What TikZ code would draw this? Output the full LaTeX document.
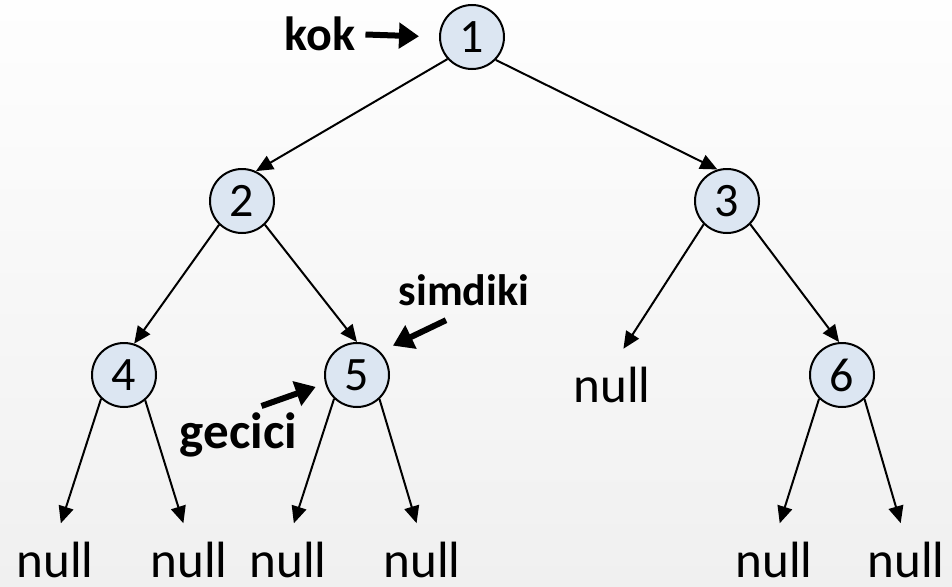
\documentclass[tikz,border=0pt]{standalone}
\usepackage{fontspec}
\setmainfont{Carlito}
\usetikzlibrary{arrows.meta}
\definecolor{nodefill}{HTML}{DCE6F2}
\definecolor{bgtop}{HTML}{FEFEFE}
\definecolor{bgbot}{HTML}{F0F0F0}
\tikzset{
  treenode/.style={circle, draw=black, line width=2pt, fill=nodefill, minimum size=64pt, inner sep=0pt, font=\fontsize{48}{56}\selectfont},
  nulltext/.style={inner sep=0pt, anchor=base, text depth=0pt, font=\fontsize{51}{60}\selectfont},
  lbl/.style={inner sep=0pt, anchor=base, text depth=0pt, font=\fontsize{44}{52}\selectfont\bfseries},
  edge/.style={line width=2pt, -{Triangle[length=17pt,width=15pt]}},
  bigarrow/.style={line width=6pt, -{Triangle[length=20pt,width=25pt]}},
}
\begin{document}
\begin{tikzpicture}[x=1pt,y=-1pt]
\shade[top color=bgtop, bottom color=bgbot] (0,0) rectangle (952,586);
\useasboundingbox (0,0) rectangle (952,586);

\node[treenode] (n1) at (472,37) {1};
\node[treenode] (n2) at (242,201) {2};
\node[treenode] (n3) at (727,201) {3};
\node[treenode] (n4) at (124,375) {4};
\node[treenode] (n5) at (357,375) {5};
\node[treenode] (n6) at (842,375) {6};

\node[nulltext] (m0) at (612,402) {null};
\node[nulltext] (m1) at (55,577) {null};
\node[nulltext] (m2) at (189,577) {null};
\node[nulltext] (m3) at (288,577) {null};
\node[nulltext] (m4) at (422,577) {null};
\node[nulltext] (m5) at (774,577) {null};
\node[nulltext] (m6) at (906,577) {null};

\node[lbl, font=\fontsize{48}{56}\selectfont\bfseries] (kok) at (320,51) {kok};
\node[lbl] (simdiki) at (464,305) {simdiki};
\node[lbl, font=\fontsize{51}{60}\selectfont\bfseries] (gecici) at (238.5,448) {gecici};

\draw[edge] (n1.222) -- (n2.65);
\draw[edge] (n1.316) -- (n3.107);
\draw[edge] (n2.226) -- (n4.72);
\draw[edge] (n2.314) -- (n5.90);
\draw[edge, shorten >=21pt] (n3.225) -- (m0.north);
\draw[edge] (n3.315) -- (n6.95);
\draw[edge, shorten >=19pt] (n4.226) -- (m1.north);
\draw[edge, shorten >=19pt] (n4.310) -- (m2.north);
\draw[edge, shorten >=19pt] (n5.226) -- (m3.north);
\draw[edge, shorten >=19pt] (n5.313) -- (m4.north);
\draw[edge, shorten >=19pt] (n6.226) -- (m5.north);
\draw[edge, shorten >=19pt] (n6.313) -- (m6.north);

\draw[bigarrow, shorten <=10pt, shorten >=20pt] (kok.east) -- (n1.west);
\draw[bigarrow, shorten >=14pt] ([shift={(-18pt,-15pt)}]simdiki.south) -- (n5.45);
\draw[bigarrow, shorten >=10pt] ([shift={(23pt,6pt)}]gecici.north) -- (n5.195);
\end{tikzpicture}
\end{document}
